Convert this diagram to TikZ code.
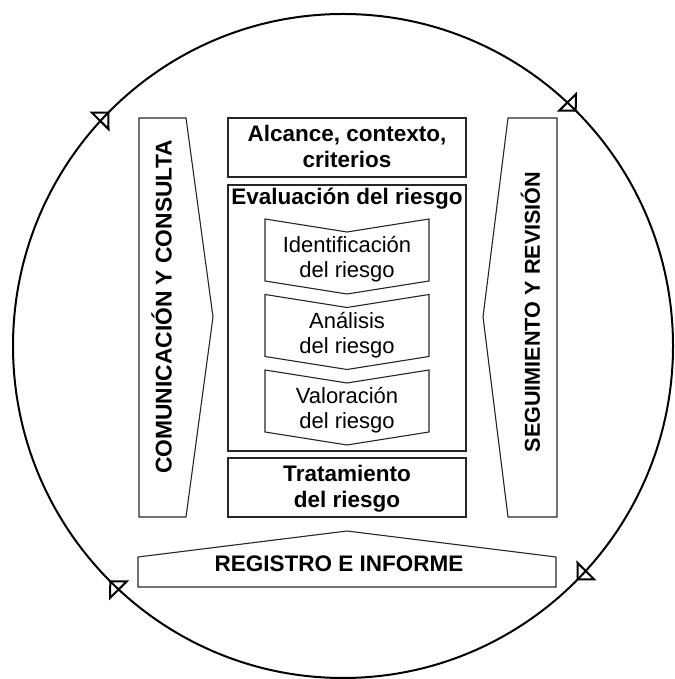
\documentclass[tikz,border=0pt]{standalone}
\usepackage{fontspec}
\setmainfont{Liberation Sans}
\usetikzlibrary{arrows.meta,decorations.markings}
\begin{document}
\begin{tikzpicture}[x=1pt,y=1pt,
  shapeline/.style={draw=black!85, line width=1.1pt, line join=miter},
  boldtext/.style={font=\fontsize{22.5}{26}\selectfont\bfseries, align=center, inner sep=0pt},
  plaintext/.style={font=\fontsize{22}{25}\selectfont, align=center, inner sep=0pt},
  captext/.style={font=\fontsize{22.5}{26}\selectfont\bfseries, inner sep=0pt, text height=16.1pt, text depth=0pt},
  ringtip/.tip={Triangle[open, length=14pt, width=28pt]},
  ring/.style={line width=2pt, postaction={decorate},
    decoration={markings,
      mark=at position 0.125 with {\arrowreversed{ringtip}},
      mark=at position 0.375 with {\arrowreversed{ringtip}},
      mark=at position 0.625 with {\arrowreversed{ringtip}},
      mark=at position 0.875 with {\arrowreversed{ringtip}}}}
]
\useasboundingbox (0,0) rectangle (674,679);

% ring
\coordinate (c) at (343,333);
\draw[ring] (c) ellipse [x radius=330, y radius=332];

% side panels
\draw[shapeline] (139,561) -- (186,561) -- (213,362) -- (186,162) -- (139,162) -- cycle;
\draw[shapeline] (508,561) -- (557,561) -- (557,162) -- (508,162) -- (483,362) -- cycle;
\node[captext, font=\fontsize{22.8}{26}\selectfont\bfseries, rotate=90] (com) at (163.5,372) {COMUNICACIÓN Y CONSULTA};
\node[captext, font=\fontsize{21.6}{26}\selectfont\bfseries, text height=15.5pt, rotate=90] (seg) at (532,367) {SEGUIMIENTO Y REVISIÓN};

% central boxes
\draw[shapeline] (228,561) rectangle (466,502);
\draw[shapeline] (228,494) rectangle (466,228);
\draw[shapeline] (228,221) rectangle (466,162);
\node[boldtext, anchor=base] (alc) at (347,511) {Alcance, contexto,\\criterios};
\node[boldtext, anchor=base] (eva) at (347,474) {Evaluación del riesgo};
\node[boldtext, anchor=base] (tra) at (347,171) {Tratamiento\\del riesgo};

% chevrons
\draw[shapeline] (265,460) -- (347,447) -- (429,460) -- (429,398) -- (347,385) -- (265,398) -- cycle;
\draw[shapeline] (265,384.5) -- (347,371.5) -- (429,384.5) -- (429,322.5) -- (347,309.5) -- (265,322.5) -- cycle;
\draw[shapeline] (265,309) -- (347,296) -- (429,309) -- (429,247) -- (347,234) -- (265,247) -- cycle;
\node[plaintext, anchor=base] (ide) at (347,401) {Identificación\\del riesgo};
\node[plaintext, anchor=base] (ana) at (347,325) {Análisis\\del riesgo};
\node[plaintext, anchor=base] (val) at (347,250) {Valoración\\del riesgo};

% registro
\draw[shapeline] (138,92) -- (138,122) -- (347,148) -- (556,122) -- (556,92) -- cycle;
\node[captext] (reg) at (339,115.5) {REGISTRO E INFORME};
\end{tikzpicture}
\end{document}
